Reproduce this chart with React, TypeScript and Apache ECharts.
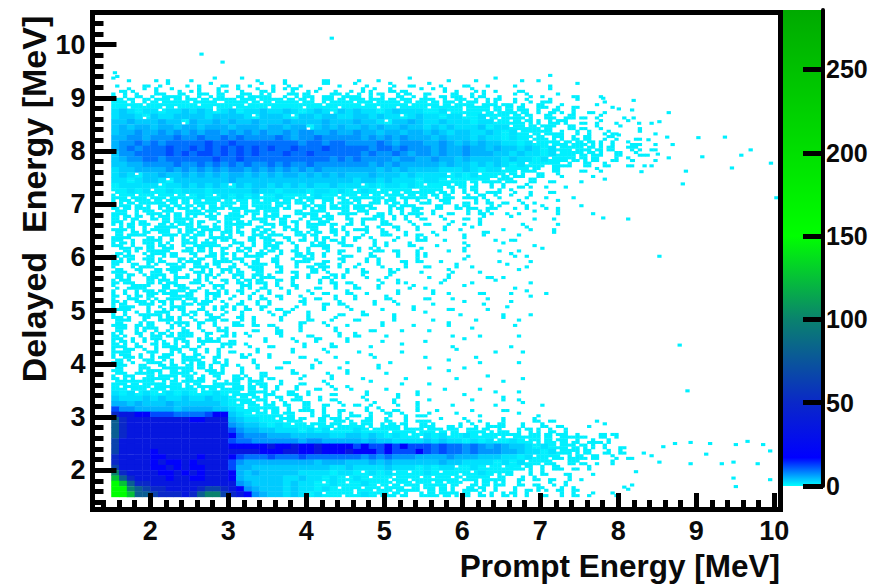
import React, { useEffect, useRef } from "react";
import * as echarts from "echarts";

// Colour scale of the reference (value -> colour).
const scaleValues = [0, 17, 50, 100, 150, 285.7];
const scaleColors = ["#00ffff", "#0000ff", "#0a28c8", "#0a826e", "#00ff00", "#00aa00"];

// Bin counts for upper-case letters in the rows below.
const levelChars = "ABCDEFGHIJKLMN";
const levelCounts = [2, 3.5, 5, 7, 9.5, 12, 19, 36, 50, 65, 80, 100, 125, 150];

const firstPrompt = 1.5;
const firstDelayedRow = 9.3;
const binSize = 0.1;

// Tick positions and labels.
const xMajor = [2, 3, 4, 5, 6, 7, 8, 9, 10];
const xMinor = [1.4, 1.6, 1.8, 2.2, 2.4, 2.6, 2.8, 3.2, 3.4, 3.6, 3.8, 4.2, 4.4, 4.6, 4.8, 5.2, 5.4, 5.6, 5.8, 6.2, 6.4, 6.6, 6.8, 7.2, 7.4, 7.6, 7.8, 8.2, 8.4, 8.6, 8.8, 9.2, 9.4, 9.6, 9.8];
const yMajor = [2, 3, 4, 5, 6, 7, 8, 9, 10];
const yMinor = [1.4, 1.6, 1.8, 2.2, 2.4, 2.6, 2.8, 3.2, 3.4, 3.6, 3.8, 4.2, 4.4, 4.6, 4.8, 5.2, 5.4, 5.6, 5.8, 6.2, 6.4, 6.6, 6.8, 7.2, 7.4, 7.6, 7.8, 8.2, 8.4, 8.6, 8.8, 9.2, 9.4, 9.6, 9.8, 10.2, 10.4];
const barTicks = [0, 50, 100, 150, 200, 250];

// Rows from Delayed = 9.3 down to 1.5 MeV, groups of 10 bins per MeV of Prompt starting at 1.5.
// Lower-case/digit = hex mask of 1-count sub-bins, upper-case = level of a full bin.
const densityRows = [
  "4.1..2.1.. 1..4..8.2. ..1....3.. .2..1...4. ...1..2..4 ....2",
  "2...3.14.2 .18.3.12.4 2.6.1..c.1 .42..81.3. 8.1..3..1. .2....1..8",
  ".36.4a.82. 15.a2.6.83 a.4d.19.2. 2.59.a13.8 .4a.1.62.1 ..3...4.",
  "5a.7.9e3b6 .d6a5.be37 5.9ea7.3d6 7b.5e.a96. d.3a7.5b.2 .8.6.1.4.3 ..2",
  "b7e.dbe7fb eb7defbd7e dfb7eb.d7f be7dfb7e5b d7a3e6b.5d .a.6.35..8 ...1",
  "ffefbfdfef fbfefdfbff efffdffbfe ffbfefdfbf dfb7fe7bd7 e5b.a7.9.3 ..4.1",
  "ABAfAAbAAB ABAbABfAAB AABAfABAeB ABAAfABAAA ffAefbfd7e b7e5a.b6.5 .3.1..8",
  "ABBAeBAABB BBABBBBAbB BBAbBBABBA ABBABAAbAB AAfAAbfAed fb7e.a7.b5 3.8..2",
  "BBCBBBCBBe CBBCBCBBCB BBCBBBBCBB BCBBAbBBCB AABAAAfAAb fb7ea.7d5. 3.9.2.4..1",
  "BCBCCBCCBC CBCCCBCCCB CCBCCeBCBC BBCBCBBCBB ABABAAABfA Abfb7ed.a5 3.6..4.2",
  "BCCDCCDCDC DCDDCDCDCD CCDCDDCCDC CDCCBCCBCC BCBABBAABA fAbdfe7b.a .5.93..8.2",
  "CCDDCDDDED DEDDEDEDDD DEDCDDEDDD DDCDCDCDCC CBCBBBABAA fAfdb7ae.7 a5.96..3",
  "CDDEDEDEEE EEFEEFEEEE EEEEDEEDEE DDDDEDCDDD CCDCBCBCBB AAfAbfe7db 7ea.5.63.2",
  "CDEDEEEFEE FEFEFEFEFE FEEFEEEFEE EEEDEEDEDD DCDCCDCCBC BBABAfAbfe 7dba5.e6.3",
  "BDDEEEEFEF EFFEFEFEFE EEFEEFEEEE EEDEDDEDCD DCDCCDCCCB BABAAfAbfd 7eb.a5.63.",
  "BCDDEEDEEE EEEFEEFEEE EEEEEEEEDE DEDDDDCDDC CDCCBCBBBB ABAAfAbfd7 ea5.b.6..2",
  "BBCCDDDDED DEDEDEDEDD EDEDDEDDDD DDDCDCDCCC CCBCBBABAB AfAbfde7b. a5.7..3..1",
  "ABBCCCCDCD CDCDCDDCDC DCDCDCDCCC CCCCBCBCBB BBAAABAfAA bfe7d.a5.. 3.6",
  "ABAbBBCBBC BCBCBCCBCB CBCCBCBCBC BBBCBBBABA AAAbAfAbfd 7eb.a5.6.. .2",
  "AAfABBAbBB BBBBBCBBBB BBBBBBBBBB BABBABAAAf AAfbfdfe7b e7.a5.3... 1..4",
  "fAAAAAbAAB ABABAbBABB ABABABAABA AAbAfAAfAf bfd7e5b.a. 5.36.2..1.",
  "efAfAbfAfA AAfAAAAABA AfAAAfAAfA fbAfbdfe7b fd7a.5e.3b .6.2..3..",
  "7febd7feb7 fAfbAfAfAb fAfdfbAfdb e7fb7ed7fb 5ea7.b3e.6 .4.9.2...1",
  "5d7efb7e5f a7fdb7e5fb d7fa7e.d5b 7e.b5d7a.6 b.e5.3a.7. 3.6.1..4..",
  "7e5fb.d7eb 6ea7d7b5ef 7db.a6e5fb 5fd7.a6de3 .a5.7e3.b9 .2.5.6.1.. 4",
  "bf.5e79d3a f7e6.b5dfa e5.a7bd6.b 79e.3a.5b7 .5.3.a.76. 2.1.4..5.. .2",
  "fa6d.7e5fb 9.e5afd.7b e6d.9a7e5. 7.3be.5a.6 1.6..3.9.. .4..1.2",
  "d5ba7.b6e7 5d.9a7fb.e 3a5e.7bd3. b.5.a7..6. 3..9.1.5.. ..2....1",
  "37e.5bfd6a 7e7fa5d.b6 9.db.e5.7a .3b.6.e..5 ..a.2.4... 1..6..2",
  "a5b7d.e79b 6fa.d5e.7d b3.a76d.e. 5.9.a7.a.3 .6...1.a4. ..1...8",
  "fd6.b75a.7 e.9df6.a5e 7.e.b.5d3a .d.6..9..7 5.2..4...1 .3",
  "7da.e576.d ebf7.9e.5a 7d.6.ab7.e 3..a.5..7. .2...6.... 4...1",
  ".e5da7bd.b 5fa.d.7e.9 b6.b.5.e.3 .a.67.3..9 ...1.5...2 ..1..4",
  "b67.6dea5. e.b5da.7bd .9.a7e.5.6 3..7..a..5 5....2.... .6.1",
  "75d.e57.a6 7d.7f9e.b. a5.6bd.3.e ..a.5..3.7 ..1..4...2 ...2",
  "d.a6b9.e75 a75e.b.6fd .7.a.3e7.5 .9..6..a.. 3...5.1... 8..1",
  "b7.e.b5ed. 6ba.d57.e5 .b.3.a56.. 5.7..a9..2 ...6...1.. ..4",
  "a5d.6fe.7b .5d9.ae.d7 7..b.5.3ea ..6..9.... 2..5....3. 1",
  "7e7.a5d75. b56.e.7ea7 .d.5..a.7. 3...6.a2.. ..9...1..4 ...2",
  "6.bfd.a5e7 .9.d5.ae.b .6.e..3.a. .7..5...9. 1....4.... .2",
  "5a.5e7ebd6 d.7ba.e.9. 5.a..6.3.. 7.2...a... .5.1...3.. .1.4.2",
  "d.7da6.bfe 7.5d.9.a.7 .e..6.3.a. .5...7.... 3..2....1. ...8",
  "db.e75ea.7 9bd.6.b.a. 5...e..3.7 ...a..6... .1...4.2.. .4",
  "7fd.a.6ae5 .b.5da.7.d .3.9...5.. 6...2...a. ...3....1. 8",
  "5a.6bbd5.7 e.7.9.a... 6.d..5...3 ..7...1... 4...2..... 1..2",
  "e75.d.7fa. 6.bd3.e.5. .a...7..9. .3....5... .1....2.. 4.1",
  "b7.ba5.6ee .d.5.a7.7. 3...d..6.. 1...a...2. ...5...... .2",
  "ad.5de.9.7 .6.ab...3. .7..5...a. ...3...1.. 2.....4...",
  "76.e.7dbaf 5.d.ba.6.. .e...3...5 .7...1.... ...2...1.. ..1",
  "d7a.5e6.d7 .7fb.3...a ...6..d... 5...2..... 1....4....",
  "fb.7.ea75b .9..dd.6.. 3...a...7. ...1...4.. ...2...... .1",
  "7bd.6b.ae. e.5a.3..a. ...5...6.. .2.....1.. ....4....1 ..2",
  "5e7a.5bd.7 b6.b..a9.. 5...3...2. ...6...... 1.....2...",
  "b56.e79a.d d7.7a...5. ..3...6... 1....2.... ...4...1.. ..1",
  "ed.a7.eb7b 5fa.d.6.a. .3...a...1 ....5..... 2....1....",
  "e7.bbd5a7f 6.e75.a..3 ...7...2.. 5....1.... ...4......",
  "7ae.b7fd5e 5b.e.a76.d 3...9...5. ..1....2.. ....1...4. ..2",
  "bfedf7ba7e ed.7bb5ae7 .a..3..6.. ...4...1.. 2......... 4",
  "fbefdbfefb 7eed7bfa5e .5.a..3.6. 6....1.... ..2....1..",
  "AfAbAfbAfA fbfAfe7bde b.a7.5..3. ..a...2..5 .....1...4 ..4",
  "BAAABABAAB AABAAfb7eb .e.b5.a.3. ..6...9... 2.....1... 5.1",
  "CCBCBBBCBB BBBBAfbe7a b.7.a5.3.6 .3.9..6..5 ...2.....1 ..8..1",
  "FDDCCCCCBC CCCBBAfbfe e5a.b7.5.3 ..a.6.3..5 .2....1... 3.",
  "IHHGGFFFEE EEFGGBAfbf b7e5.a.7.5 a3.5.e.6.3 9...4..1.. ..4.2",
  "KIHHHHHHHH GGHHHCBAAf fbe7d.a5e7 6.b5.7.a.3 3.4..6.1.. 5...7.3 ..1",
  "KIHHHHHHHH HHHHHDCBBA fAfbfbe7d7 b7d5ab7e.a 75.3a.6.7b 5.a..7.3.. .1.4",
  "KIHHHHHHHH HHHHHFDCCB BAAAfAfAbf fAfbfdfbfe bd7e5afb6a 3.5ea.7.5.",
  "KIHHHHHHHH HHHHHGEDDD CCCBBBBBAA BBABAfAfbd AfAbfAfbfd de7bfa5e7b 3.a5e.",
  "JHHHHHHHHH HHHHHFEEDD DDDDCDDCCC CCBCBBAAAA BABAAfAfAb fAfbea7e5b .b3a.",
  "JHHHHHHHHH HHHHHGGGGG HGGHGGHGGG GFGFFGFGFF FEFEEDEDCD CBBAfAfbd7 ea.5.3",
  "JHHHHGHHHH HHHHHHHHHG GGHHGGHGGG HGGGFGFFFG FEFEEDEDDD CCBAAfAbfe a5.b.7",
  "IHHHHGGHHH HGHHHGFEEE FEEEFEEEEE EEDEDEDDDC CCCDCCCBBB AAfAbfe7ab 7a5.6.3",
  "IHHHHGHGGH GHHHHFDCCC CCCCCCBCCC BBBCBCBBBB BBCBBAAAAf AfAbfe7.ad 3.1.5",
  "JHHHHGGHGH GGHHHFCCBB BBBBBBBBAA BAAAABAAAf AfAAbfAfbf bf7e.5a7.3 .5..",
  "LIHHHHGGHG HGHHHGCBCB BBBBAAAAfA AfbAfAbfbf AfbfdfbAfe e5.a.7..3. .2",
  "MKIHHHHGHH GGHHHGCBBB BBAABAAfAf bAfbfdbfe7 fbf7dbfe7b 5.b.7.3.a. 1",
  "NMKIIHHHHH HHHHHHDCBB BBABAAfbAf bfAfedbe7d fb7ed.ba57 5.7.3.6.5.",
  "NNLKJIIHHH HIJJIHGDCB BBABAAfAfb febd7fe7b5 e5fa.b7e.5 .a.3a6.b.7",
  "NNMKKJIIIH IKLLJIHGDC BBABAfAbfd fbAfe7db.a b7ed5f.7a. 7e.5.3.a.7 .9..6..",
];

// Isolated single-count bins.
const strayPrompt = [4.3, 2.63, 2.9, 1.52, 1.55, 7.1, 6.74, 7.78, 8.17, 7.98, 8.62, 8.17, 8.24, 8.5, 7.7, 7.98, 8.6, 9.0, 9.34, 8.36, 8.67, 9.67, 9.55, 9.05, 8.48, 8.62, 8.16, 9.93, 8.31, 9.43, 8.84, 8.27, 8.8, 10.0, 8.1, 7.78, 8.5, 8.76, 8.86, 8.9, 9.15, 9.48, 9.63, 9.83, 9.92, 9.1, 9.3, 9.45, 9.76, 9.45, 9.92, 9.48, 8.9, 8.7, 8.5, 8.2, 8.1, 8.15, 8.05, 8.55, 8.3, 8.4];
const strayDelayed = [10.1, 9.8, 9.65, 9.45, 9.38, 9.4, 9.3, 8.97, 8.93, 8.77, 8.7, 8.6, 8.5, 8.53, 8.6, 8.28, 8.24, 8.23, 8.24, 8.19, 8.1, 8.0, 7.9, 7.87, 7.92, 7.85, 7.8, 7.75, 7.7, 7.66, 7.6, 7.59, 7.36, 7.1, 6.7, 6.72, 6.0, 4.33, 3.47, 2.5, 2.48, 2.46, 2.52, 2.46, 2.34, 2.28, 2.1, 2.13, 2.1, 1.83, 1.8, 1.67, 2.1, 2.48, 2.13, 1.95, 1.62, 1.7, 1.66, 2.42, 2.3, 2.25];

const font = "'Liberation Sans', Arial, sans-serif";
const ink = "#0a0a0a";

function colorFor(v: number): string {
  for (let i = 1; i < scaleValues.length; i++) {
    if (v <= scaleValues[i]) {
      const t = (v - scaleValues[i - 1]) / (scaleValues[i] - scaleValues[i - 1]);
      return echarts.color.lerp(t, [scaleColors[i - 1], scaleColors[i]]) as string;
    }
  }
  return scaleColors[scaleColors.length - 1];
}

function buildCells(): number[][] {
  const cells: number[][] = [];
  densityRows.forEach((row, r) => {
    const y = firstDelayedRow - r * binSize;
    row.split(" ").forEach((group, g) => {
      for (let i = 0; i < group.length; i++) {
        const ch = group[i];
        if (ch === ".") continue;
        const x = firstPrompt + (g * 10 + i) * binSize;
        const level = levelChars.indexOf(ch);
        if (level >= 0) {
          cells.push([x, y, x + binSize, y + binSize, levelCounts[level]]);
        } else {
          const mask = parseInt(ch, 16);
          const h = binSize / 2;
          if (mask & 1) cells.push([x, y, x + h, y + h, 1]);
          if (mask & 2) cells.push([x + h, y, x + binSize, y + h, 1]);
          if (mask & 4) cells.push([x, y + h, x + h, y + binSize, 1]);
          if (mask & 8) cells.push([x + h, y + h, x + binSize, y + binSize, 1]);
        }
      }
    });
  });
  strayPrompt.forEach((x, i) => {
    const y = strayDelayed[i];
    cells.push([x, y, x + binSize / 2, y + binSize / 2, 1]);
  });
  return cells;
}

function renderCell(_p: any, api: any) {
  const a = api.coord([api.value(0), api.value(1)]);
  const b = api.coord([api.value(2), api.value(3)]);
  return {
    type: "rect",
    shape: { x: a[0], y: b[1], width: b[0] - a[0] + 0.4, height: a[1] - b[1] + 0.4 },
    style: { fill: colorFor(api.value(4)), stroke: null },
  };
}

function renderBar(_p: any, api: any) {
  const a = api.coord([api.value(0), api.value(1)]);
  const b = api.coord([api.value(2), api.value(3)]);
  const top = scaleValues[scaleValues.length - 1];
  return {
    type: "rect",
    shape: { x: a[0], y: b[1], width: b[0] - a[0], height: a[1] - b[1] },
    style: {
      fill: new echarts.graphic.LinearGradient(
        0, 1, 0, 0,
        scaleValues.map((v, i) => ({ offset: v / top, color: scaleColors[i] })),
      ),
    },
  };
}

const xMin = 1.26, xMax = 10.08, yMin = 1.27, yMax = 10.6;
const labelStyle = { fontFamily: font, fontSize: 27, fontWeight: "bold" as const, color: ink };

export default function App() {
  const ref = useRef<HTMLDivElement>(null);
  useEffect(() => {
    document.body.style.margin = "0";
    const chart = echarts.init(ref.current!, null, { renderer: "svg" });
    const heavy = { color: "#000", width: 5, cap: "square" as const };
    const blackTick = { color: "#000", width: 5 };
    const bare = { splitLine: { show: false }, axisTick: { show: false }, axisLabel: { show: false } };
    chart.setOption({
      animation: false,
      backgroundColor: "#fff",
      grid: [
        { left: 92.5, top: 12.7, width: 688, height: 496.3 },
        { left: 783, top: 10, width: 40, height: 476 },
      ],
      xAxis: [
        {
          type: "value", gridIndex: 0, min: xMin, max: xMax, position: "bottom", z: 10,
          splitLine: { show: false },
          axisLine: { onZero: false, lineStyle: heavy },
          axisTick: { inside: true, length: 16, lineStyle: blackTick, customValues: xMajor },
          axisLabel: { ...labelStyle, margin: 8, customValues: xMajor },
        },
        {
          type: "value", gridIndex: 0, min: xMin, max: xMax, position: "top", z: 10, ...bare,
          axisLine: { onZero: false, lineStyle: heavy },
        },
        { type: "value", gridIndex: 1, min: 0, max: 1, show: false },
        {
          type: "value", gridIndex: 0, min: xMin, max: xMax, position: "bottom", z: 10,
          splitLine: { show: false }, axisLabel: { show: false },
          axisLine: { onZero: false, lineStyle: heavy },
          axisTick: { inside: true, length: 9, lineStyle: blackTick, customValues: xMinor },
        },
      ],
      yAxis: [
        {
          type: "value", gridIndex: 0, min: yMin, max: yMax, position: "left", z: 10,
          splitLine: { show: false },
          axisLine: { onZero: false, lineStyle: heavy },
          axisTick: { inside: true, length: 24, lineStyle: blackTick, customValues: yMajor },
          axisLabel: { ...labelStyle, margin: 7, customValues: yMajor },
        },
        {
          type: "value", gridIndex: 0, min: yMin, max: yMax, position: "right", z: 10, ...bare,
          axisLine: { onZero: false, lineStyle: heavy },
        },
        {
          type: "value", gridIndex: 1, min: 0, max: scaleValues[scaleValues.length - 1], position: "right", z: 10,
          splitLine: { show: false },
          axisLine: { onZero: false, lineStyle: { color: "#000", width: 4 } },
          axisTick: { inside: true, length: 20, lineStyle: blackTick, customValues: barTicks },
          axisLabel: { ...labelStyle, fontSize: 25, margin: 3, customValues: barTicks },
        },
        {
          type: "value", gridIndex: 0, min: yMin, max: yMax, position: "left", z: 10,
          splitLine: { show: false }, axisLabel: { show: false },
          axisLine: { onZero: false, lineStyle: heavy },
          axisTick: { inside: true, length: 11, lineStyle: blackTick, customValues: yMinor },
        },
      ],
      series: [
        {
          type: "custom", xAxisIndex: 0, yAxisIndex: 0, coordinateSystem: "cartesian2d",
          renderItem: renderCell, data: buildCells(), encode: { x: [0, 2], y: [1, 3] },
          silent: true, progressive: 0, z: 2,
        },
        {
          type: "custom", xAxisIndex: 2, yAxisIndex: 2, coordinateSystem: "cartesian2d",
          renderItem: renderBar, data: [[0, 0, 1, scaleValues[scaleValues.length - 1]]],
          encode: { x: [0, 2], y: [1, 3] }, silent: true, z: 2,
        },
      ],
      graphic: [
        {
          type: "text", x: 780, y: 566, z: 20,
          style: { text: "Prompt Energy [MeV]", fill: ink, font: `bold 31.5px ${font}`, align: "right", verticalAlign: "middle" },
        },
        {
          type: "text", x: 34, y: 199, rotation: Math.PI / 2, z: 20,
          style: { text: "Delayed  Energy [MeV]", fill: ink, font: `bold 34px ${font}`, align: "center", verticalAlign: "middle" },
        },
      ],
    });
    return () => chart.dispose();
  }, []);
  return <div ref={ref} style={{ position: "absolute", left: 0, top: 0, width: 873, height: 586 }} />;
}
